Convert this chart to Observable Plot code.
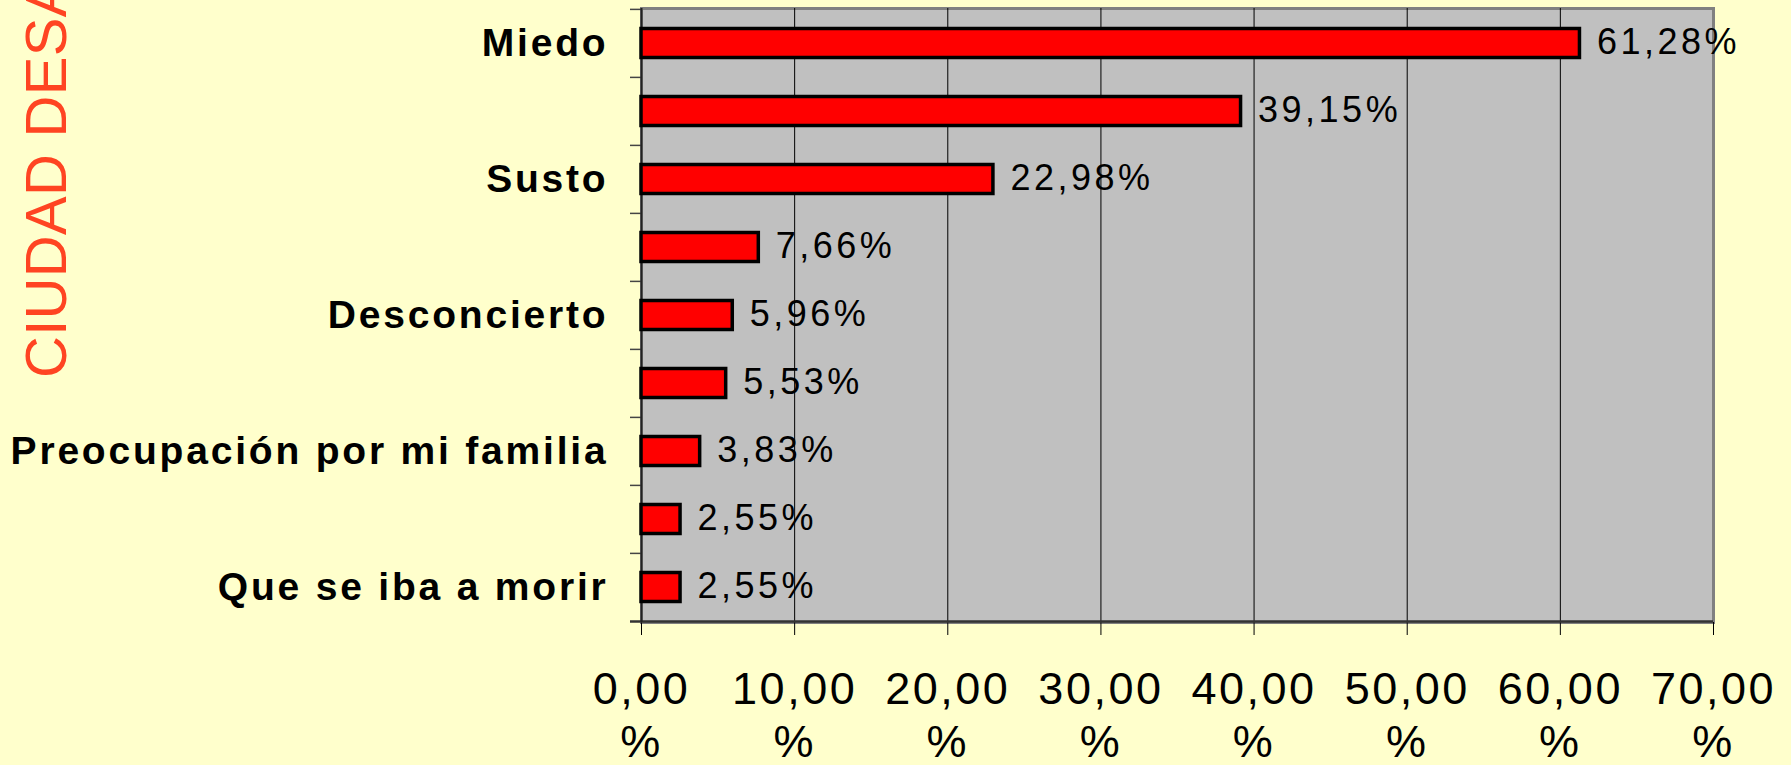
<!DOCTYPE html>
<html>
<head>
<meta charset="utf-8">
<script src="https://cdn.jsdelivr.net/npm/d3@7"></script>
<script src="https://cdn.jsdelivr.net/npm/@observablehq/plot@0.6"></script>
<style>
  html, body { margin: 0; padding: 0; background: #ffffcc; }
  #chart { width: 1791px; height: 765px; overflow: hidden; }
  #chart g[aria-label="y-axis tick label"] text { letter-spacing: 2.8px; }
  #chart g[aria-label="x-axis tick label"] text { letter-spacing: 2.5px; }
  #chart g.value-labels text { letter-spacing: 3.5px; }
</style>
</head>
<body>
<div id="chart"></div>
<script>
// ---- data ----
const categories = ["Miedo", "", "Susto", "", "Desconcierto", "", "Preocupación por mi familia", "", "Que se iba a morir"];
const values = [61.28, 39.15, 22.98, 7.66, 5.96, 5.53, 3.83, 2.55, 2.55];
const xTicks = [0, 10, 20, 30, 40, 50, 60, 70];
const sideTitle = "CIUDAD DESAMPARADOS";

const rows = values.map((v, i) => ({idx: i, label: categories[i], value: v}));
const comma = (v) => v.toFixed(2).replace(".", ",");

const width = 1791, height = 765;
const marginLeft = 641, marginRight = 78, marginTop = 8, marginBottom = 143;
const bw = (height - marginTop - marginBottom) / categories.length;
const font = "'Liberation Sans', Arial, Helvetica, sans-serif";

const plot = Plot.plot({
  width, height, marginLeft, marginRight, marginTop, marginBottom,
  style: {background: "#ffffcc", fontFamily: font, overflow: "hidden"},
  x: {domain: [0, 70], axis: null},
  y: {domain: rows.map(d => d.idx), padding: 0, axis: null},
  marks: [
    Plot.frame({fill: "#c0c0c0", stroke: "#808080", strokeWidth: 3}),
    Plot.ruleX(xTicks.slice(1, -1), {stroke: "#000", strokeWidth: 1}),
    // x-axis ticks below the plot
    Plot.axisX({
      ticks: xTicks,
      label: null,
      tickSize: 13,
      tickPadding: 30,
      tickFormat: d => comma(d) + "\n%",
      fontSize: 45,
      lineHeight: 1.19,
      stroke: "#000",
      strokeWidth: 1
    }),
    // y tick marks at band boundaries
    Plot.ruleY(rows, {y: "idx", x1: 0, x2: 0, insetLeft: -11, dy: -bw / 2, stroke: "#444", strokeWidth: 1.5}),
    // bottom axis line (extends left like a tick)
    Plot.ruleY(rows.slice(-1), {y: "idx", x1: 0, x2: 70, insetLeft: -11, dy: bw / 2, stroke: "#333", strokeWidth: 2.5}),
    // left axis line
    Plot.ruleX([0], {stroke: "#222", strokeWidth: 2}),
    Plot.axisY({
      label: null,
      tickSize: 0,
      tickPadding: 33,
      tickFormat: i => categories[i],
      fontSize: 39,
      fontWeight: "bold",
      fill: "#000"
    }),
    Plot.barX(rows, {
      y: "idx", x: "value",
      fill: "#ff0000", stroke: "#000", strokeWidth: 3.5,
      insetTop: 19.5, insetBottom: 19.5
    }),
    Plot.text(rows, {
      y: "idx", x: "value",
      text: d => comma(d.value) + "%",
      textAnchor: "start", dx: 17, dy: -1,
      fontSize: 36, fill: "#000",
      className: "value-labels"
    })
  ]
});

document.getElementById("chart").appendChild(plot);

// side title (rotated, clipped at the top like the original)
d3.select(plot).append("text")
  .attr("transform", "translate(66,378) rotate(-90)")
  .attr("text-anchor", "start")
  .attr("fill", "#ff4422")
  .style("font-family", font)
  .style("font-size", "58px")
  .style("letter-spacing", "0.3px")
  .text(sideTitle);
</script>
</body>
</html>
